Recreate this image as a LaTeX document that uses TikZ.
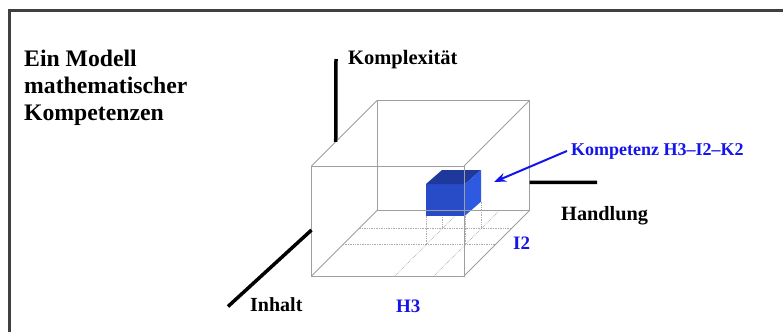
\documentclass[tikz,border=0pt]{standalone}
\usepackage{fontspec}
\setmainfont{Liberation Serif}
\usetikzlibrary{arrows.meta,calc}
\definecolor{kblue}{RGB}{20,20,235}
\definecolor{boxfront}{RGB}{40,76,200}
\definecolor{boxtop}{RGB}{30,56,155}
\definecolor{boxside}{RGB}{46,90,225}

\begin{document}
\begin{tikzpicture}[x=1pt,y=-1pt,
    axis/.style={line width=3.5pt},
    edge/.style={draw=gray!75, line width=0.9pt},
    floorgrid/.style={draw=gray!65, densely dotted, line width=0.7pt},
    lbl/.style={anchor=base west, inner sep=0pt, font=\bfseries\fontsize{#1}{#1}\selectfont}]
    \useasboundingbox (0,0) rectangle (783,332);

    % Draw frame
    \draw[line width=2.5pt, gray!50!black] (9.5,332) -- (9.5,10.5) -- (783,10.5);

    % Draw title
    \node[anchor=base west, inner sep=0pt, align=left,
          font=\bfseries\fontsize{23.7}{26.7}\selectfont] (title) at (24,120)
          {Ein Modell\\mathematischer\\Kompetenzen};

    % Cube corners (front face, then back face)
    \coordinate (f0) at (311.5,276);
    \coordinate (f1) at (464,276);
    \coordinate (f2) at (464,166);
    \coordinate (f3) at (311.5,166);
    \foreach \i in {0,1,2,3} {
        \coordinate (b\i) at ($(f\i)+(65.5,-65.5)$);
    }

    % Draw floor grid
    \foreach \t in {0.48,0.72} {
        \draw[floorgrid] ($(f0)!\t!(b0)$) -- ($(f1)!\t!(b1)$);
    }
    \foreach \s in {0.547,0.803} {
        \draw[floorgrid] ($(f0)!\s!(f1)$) -- ($(b0)!\s!(b1)$);
    }

    % Draw drop lines under the box
    \draw[floorgrid] (426,215.7) -- (426,244.6);
    \draw[floorgrid] (442,201.7) -- (442,228.8);
    \draw[floorgrid] (465,215.7) -- (465,244.6);
    \draw[floorgrid] (481,201.7) -- (481,228.8);

    % Draw competence box
    \fill[boxfront] (426,215.7) rectangle (465,184);
    \fill[boxtop] (426,184) -- (465,184) -- (481,170) -- (442,170) -- cycle;
    \fill[boxside] (465,184) -- (481,170) -- (481,201.7) -- (465,215.7) -- cycle;

    % Draw cube edges
    \draw[edge] (f0) -- (f1) -- (f2) -- (f3) -- cycle;
    \draw[edge] (b0) -- (b1) -- (b2) -- (b3) -- cycle;
    \foreach \i in {0,1,2,3} {
        \draw[edge] (f\i) -- (b\i);
    }

    % Draw axes
    \draw[axis] ($(f3)!0.37!(b3)$) -- (336,59);
    \draw[axis] ($(b1)!0.256!(b2)$) -- (597,182.3);
    \draw[axis] ($(f0)!0.418!(f3)$) -- (228,306.5);

    % Draw labels
    \node[lbl=20.5] (komplex) at (348,64) {Komplexität};
    \node[lbl=20.3] (handl) at (561,220) {Handlung};
    \node[lbl=20] (inh) at (250,311.7) {Inhalt};
    \node[lbl=19, kblue] (hthree) at (396,312) {H3};
    \node[lbl=19, kblue] (itwo) at (513,249) {I2};
    \node[lbl=18, kblue] (komp) at (571,155) {Kompetenz H3–I2–K2};

    % Draw arrow to the box
    \coordinate (tip) at (494,182);
    \draw[kblue, line width=2pt, -{Stealth[length=12pt,width=9pt]}]
        ([xshift=-4pt]komp.west) -- (tip);
\end{tikzpicture}
\end{document}
